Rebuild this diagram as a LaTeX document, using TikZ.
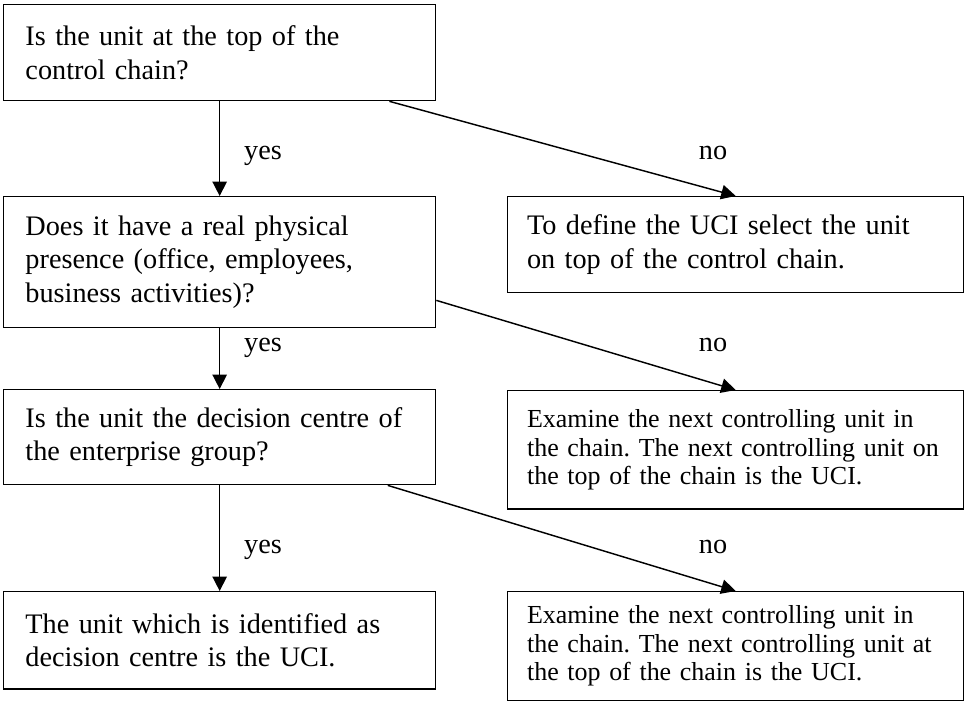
\documentclass[tikz,border=0pt]{standalone}
\usepackage{fontspec}
\setmainfont{Liberation Serif}
\usetikzlibrary{arrows.meta}
\frenchspacing

\tikzset{
  box/.style={draw, line width=0.6pt, anchor=north west, inner xsep=9pt, inner ysep=0pt,
    text width=160.8pt, align=left, minimum width=178.8pt, font=\fontsize{11.7}{13.9}\selectfont},
  rbox/.style={draw, line width=0.6pt, anchor=north west, inner xsep=8pt, inner ysep=0pt,
    text width=172.8pt, align=left, minimum width=188.8pt, font=\fontsize{11.7}{13.9}\selectfont},
  smallbox/.style={rbox, font=\fontsize{10.75}{11.8}\selectfont},
  lbl/.style={inner sep=0pt, font=\fontsize{11.7}{13.9}\selectfont},
  arr/.style={line width=0.6pt, -{Triangle[length=6pt,width=6pt]}}
}

\begin{document}
\begin{tikzpicture}[x=0.414pt, y=-0.414pt]
      \useasboundingbox (0,0) rectangle (964,702);
      % left column
      \node[box, minimum height=39.7pt] (q1) at (3,4) {Is the unit at the top of the\\control chain?};
      \node[box, minimum height=54.2pt] (q2) at (3,196) {Does it have a real physical\\presence (office, employees,\\business activities)?};
      \node[box, minimum height=39.3pt] (q3) at (3,389) {Is the unit the decision centre of\\the enterprise group?};
      \node[box, minimum height=40.2pt] (q4) at (3,591) {The unit which is identified as\\decision centre is the UCI.};
      % right column
      \node[rbox, minimum height=39.7pt] (r1) at (507,196) {To define the UCI select the unit\\on top of the control chain.};
      \node[smallbox, minimum height=48.9pt] (r2) at (507,390) {Examine the next controlling unit in\\the chain. The next controlling unit on\\the top of the chain is the UCI.};
      \node[smallbox, minimum height=45.1pt] (r3) at (507,591) {Examine the next controlling unit in\\the chain. The next controlling unit at\\the top of the chain is the UCI.};
      % connectors
      \draw[arr] (q1) -- (q2);
      \draw[arr] (q2) -- (q3);
      \draw[arr] (q3) -- (q4);
      \draw[arr] (q1.-16) -- (r1.north);
      \draw[arr] (q2.-10.5) -- (r2.north);
      \draw[arr] (q3.-16) -- (r3.north);
      % labels
      \node[lbl] (yes1) at (263,156) {yes};
      \node[lbl] (yes2) at (263,348) {yes};
      \node[lbl] (yes3) at (263,550) {yes};
      \node[lbl] (no1) at (713,153) {no};
      \node[lbl] (no2) at (713,345) {no};
      \node[lbl] (no3) at (713,547) {no};
    \end{tikzpicture}
\end{document}
